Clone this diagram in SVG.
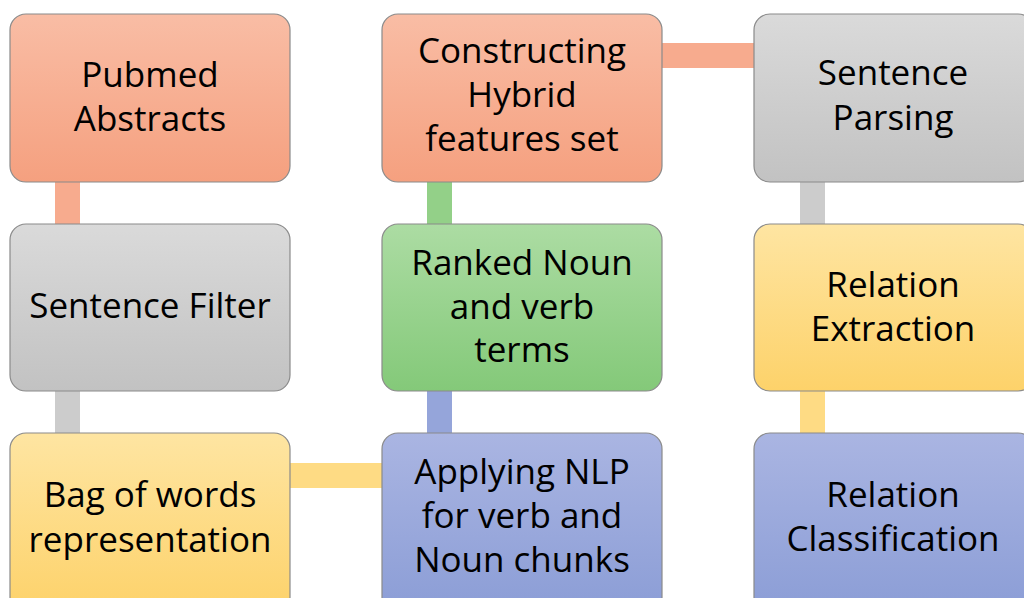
<svg xmlns="http://www.w3.org/2000/svg" width="1024" height="598" viewBox="0 0 1024 598">
<defs>
<linearGradient id="gSal" x1="0" y1="0" x2="0" y2="1"><stop offset="0" stop-color="#f9bda5"/><stop offset="1" stop-color="#f5a07f"/></linearGradient>
<linearGradient id="gGry" x1="0" y1="0" x2="0" y2="1"><stop offset="0" stop-color="#dadada"/><stop offset="1" stop-color="#c2c2c2"/></linearGradient>
<linearGradient id="gYel" x1="0" y1="0" x2="0" y2="1"><stop offset="0" stop-color="#fee5a2"/><stop offset="1" stop-color="#fdd26a"/></linearGradient>
<linearGradient id="gGrn" x1="0" y1="0" x2="0" y2="1"><stop offset="0" stop-color="#acdca3"/><stop offset="1" stop-color="#84c979"/></linearGradient>
<linearGradient id="gBlu" x1="0" y1="0" x2="0" y2="1"><stop offset="0" stop-color="#aab5e2"/><stop offset="1" stop-color="#8b9dd6"/></linearGradient>
</defs>
<style>
.box{stroke:#8a8a8a;stroke-width:1.2}
.t{font-family:"Open Sans","Liberation Sans",sans-serif;font-size:35px;fill:#000;text-anchor:middle}
</style>
<rect width="1024" height="598" fill="#ffffff"/>
<g id="connectors">
<rect x="55" y="180" width="25" height="46" fill="#f7ab8e"/>
<rect x="55" y="389" width="25" height="46" fill="#cccccc"/>
<rect x="288" y="463" width="96" height="25" fill="#fedb84"/>
<rect x="427" y="180" width="25" height="46" fill="#93d088"/>
<rect x="427" y="389" width="25" height="46" fill="#95a5da"/>
<rect x="660" y="43" width="96" height="25" fill="#f7ab8e"/>
<rect x="800" y="180" width="25" height="46" fill="#cccccc"/>
<rect x="800" y="389" width="25" height="46" fill="#fedb84"/>
</g>
<g id="pubmed"><rect class="box" x="10" y="14" width="280" height="168" rx="16" fill="url(#gSal)"/>
<text class="t" x="150" y="87">Pubmed</text><text class="t" x="150" y="131">Abstracts</text></g>
<g id="sentence-filter"><rect class="box" x="10" y="224" width="280" height="167" rx="16" fill="url(#gGry)"/>
<text class="t" x="150" y="318">Sentence Filter</text></g>
<g id="bag-of-words"><rect class="box" x="10" y="433" width="280" height="180" rx="16" fill="url(#gYel)"/>
<text class="t" x="150" y="507">Bag of words</text><text class="t" x="150" y="552">representation</text></g>
<g id="constructing"><rect class="box" x="382" y="14" width="280" height="168" rx="16" fill="url(#gSal)"/>
<text class="t" x="522" y="63">Constructing</text><text class="t" x="522" y="107">Hybrid</text><text class="t" x="522" y="151">features set</text></g>
<g id="ranked"><rect class="box" x="382" y="224" width="280" height="167" rx="16" fill="url(#gGrn)"/>
<text class="t" x="522" y="275">Ranked Noun</text><text class="t" x="522" y="319">and verb</text><text class="t" x="522" y="362">terms</text></g>
<g id="applying-nlp"><rect class="box" x="382" y="433" width="280" height="180" rx="16" fill="url(#gBlu)"/>
<text class="t" x="522" y="484">Applying NLP</text><text class="t" x="522" y="528">for verb and</text><text class="t" x="522" y="572">Noun chunks</text></g>
<g id="sentence-parsing"><rect class="box" x="754" y="14" width="280" height="168" rx="16" fill="url(#gGry)"/>
<text class="t" x="893" y="85">Sentence</text><text class="t" x="893" y="130">Parsing</text></g>
<g id="relation-extraction"><rect class="box" x="754" y="224" width="280" height="167" rx="16" fill="url(#gYel)"/>
<text class="t" x="893" y="297">Relation</text><text class="t" x="893" y="341">Extraction</text></g>
<g id="relation-classification"><rect class="box" x="754" y="433" width="280" height="180" rx="16" fill="url(#gBlu)"/>
<text class="t" x="893" y="507">Relation</text><text class="t" x="893" y="551">Classification</text></g>
</svg>
